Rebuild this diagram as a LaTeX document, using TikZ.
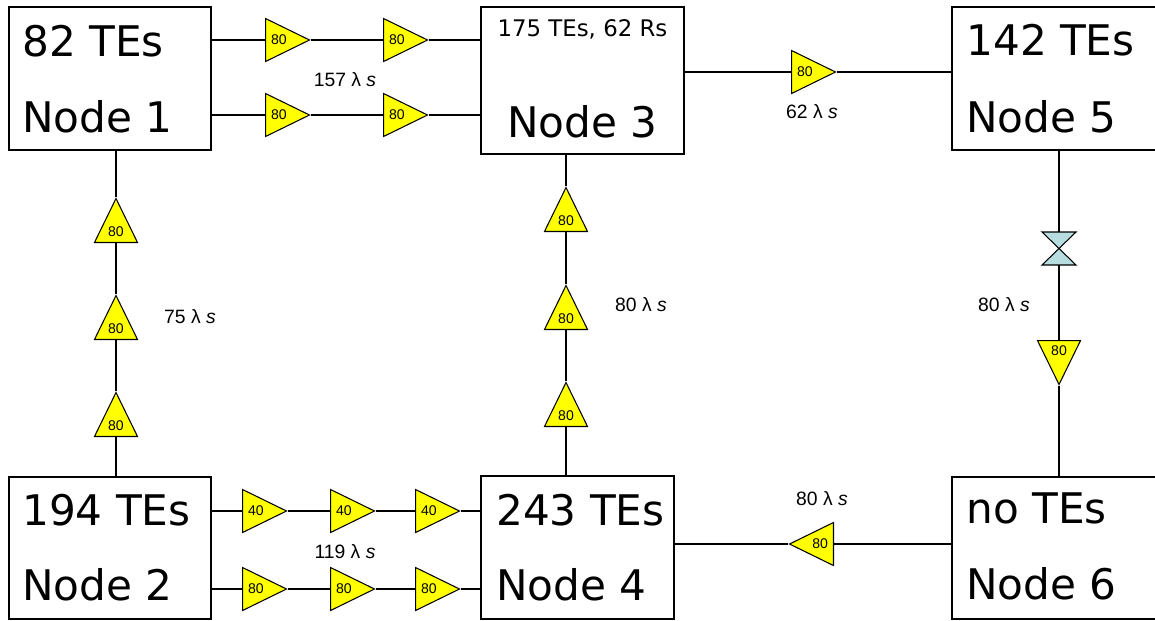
\documentclass[tikz,border=0pt]{standalone}
\usepackage{fontspec}
\setmainfont{Liberation Sans}
\newfontfamily\boxfont{DejaVu Sans}
\usetikzlibrary{shapes.geometric}
\definecolor{ampyellow}{RGB}{255,255,0}
\definecolor{isoblue}{RGB}{183,221,224}
\tikzset{
  box/.style={draw, line width=0.8pt, minimum width=4.04cm, minimum height=2.86cm},
  big/.style={inner sep=0pt, anchor=base west, font=\boxfont\fontsize{24}{28}\selectfont},
  amp/.style={draw, fill=ampyellow, line width=0.6pt, isosceles triangle, isosceles triangle apex angle=54, isosceles triangle stretches, minimum width=0.86cm, minimum height=0.88cm, inner sep=0pt, anchor=lower side, font=\fontsize{8}{9}\selectfont},
  lbl/.style={font=\fontsize{11}{13}\selectfont},
  link/.style={line width=0.7pt}
}
\begin{document}
\begin{tikzpicture}[x=0.02cm, y=-0.02cm]
  \clip (0,0) rectangle (1155,620);
  \fill[white] (0,0) rectangle (1155,620);

  % nodes
  \node[box] (n1) at (110,78.5) {};
  \node[box, minimum width=4.06cm, minimum height=2.94cm] (n3) at (582.5,80.5) {};
  \node[box, minimum width=4.2cm] (n5) at (1057,78.5) {};
  \node[box, minimum height=2.84cm] (n2) at (110,548) {};
  \node[box, minimum width=3.86cm] (n4) at (577.5,547.5) {};
  \node[box, minimum width=4.2cm, minimum height=2.84cm] (n6) at (1057,548) {};

  \node[big] (t1a) at (22,56) {82 TEs};
  \node[big] (t1b) at (22,132) {Node 1};
  \node[big, anchor=base, font=\boxfont\fontsize{13}{15}\selectfont] (t3a) at (582.5,36) {175 TEs, 62 Rs};
  \node[big, anchor=base] (t3b) at (582.5,137) {Node 3};
  \node[big] (t5a) at (966,55) {142 TEs};
  \node[big] (t5b) at (966,132) {Node 5};
  \node[big] (t2a) at (22,525) {194 TEs};
  \node[big] (t2b) at (22,600) {Node 2};
  \node[big] (t4a) at (496,525) {243 TEs};
  \node[big] (t4b) at (496,600) {Node 4};
  \node[big] (t6a) at (966,523) {no TEs};
  \node[big] (t6b) at (966,599) {Node 6};

  % node 1 -- node 3
  \node[amp] (a1) at (265,40) {80};
  \node[amp] (a2) at (383,40) {80};
  \node[amp] (a3) at (265,115) {80};
  \node[amp] (a4) at (383,115) {80};
  \draw[link] (n1.east |- a1) -- (a1.lower side);
  \draw[link] (a1.apex) -- (a2.lower side);
  \draw[link] (a2.apex) -- (n3.west |- a2);
  \draw[link] (n1.east |- a3) -- (a3.lower side);
  \draw[link] (a3.apex) -- (a4.lower side);
  \draw[link] (a4.apex) -- (n3.west |- a4);
  \node[lbl] (l13) at (345,80) {157 λ \textit{s}};

  % node 3 -- node 5
  \node[amp] (a5) at (791,72) {80};
  \draw[link] (n3.east |- a5) -- (a5.lower side);
  \draw[link] (a5.apex) -- (n5.west |- a5);
  \node[lbl] (l35) at (812,112) {62 λ \textit{s}};

  % node 2 -- node 1
  \node[amp, shape border rotate=90] (b1) at (116,437) {80};
  \node[amp, shape border rotate=90] (b2) at (116,340) {80};
  \node[amp, shape border rotate=90] (b3) at (116,243) {80};
  \draw[link] (n2.north -| b1) -- (b1.lower side);
  \draw[link] (b1.apex) -- (b2.lower side);
  \draw[link] (b2.apex) -- (b3.lower side);
  \draw[link] (b3.apex) -- (n1.south -| b3);
  \node[lbl] (l12) at (190,317) {75 λ \textit{s}};

  % node 4 -- node 3
  \node[amp, shape border rotate=90] (b4) at (566,427) {80};
  \node[amp, shape border rotate=90] (b5) at (566,330) {80};
  \node[amp, shape border rotate=90] (b6) at (566,232) {80};
  \draw[link] (n4.north -| b4) -- (b4.lower side);
  \draw[link] (b4.apex) -- (b5.lower side);
  \draw[link] (b5.apex) -- (b6.lower side);
  \draw[link] (b6.apex) -- (n3.south -| b6);
  \node[lbl] (l34) at (641,305) {80 λ \textit{s}};

  % node 5 -- node 6
  \node[amp, shape border rotate=-90] (c1) at (1059,340) {80};
  \coordinate (iso) at (1059,248.5);
  \draw[link] (n5.south -| c1) -- (c1.lower side);
  \draw[link] (c1.apex) -- (n6.north -| c1);
  \draw[line width=0.6pt, fill=isoblue] ([shift={(-17,-16.5)}]iso) -- ([shift={(17,-16.5)}]iso) -- ([shift={(-17,16.5)}]iso) -- ([shift={(17,16.5)}]iso) -- cycle;
  \node[lbl] (l56) at (1004,305) {80 λ \textit{s}};

  % node 6 -- node 4
  \node[amp, shape border rotate=180] (c2) at (834,544) {80};
  \draw[link] (n6.west |- c2) -- (c2.lower side);
  \draw[link] (c2.apex) -- (n4.east |- c2);
  \node[lbl] (l64) at (822,499) {80 λ \textit{s}};

  % node 2 -- node 4
  \foreach \x/\n in {242/1, 330/2, 415/3} {
    \node[amp] (d\n) at (\x,511) {40};
    \node[amp] (e\n) at (\x,589) {80};
  }
  \draw[link] (n2.east |- d1) -- (d1.lower side);
  \draw[link] (d1.apex) -- (d2.lower side);
  \draw[link] (d2.apex) -- (d3.lower side);
  \draw[link] (d3.apex) -- (n4.west |- d3);
  \draw[link] (n2.east |- e1) -- (e1.lower side);
  \draw[link] (e1.apex) -- (e2.lower side);
  \draw[link] (e2.apex) -- (e3.lower side);
  \draw[link] (e3.apex) -- (n4.west |- e3);
  \node[lbl] (l24) at (345,552) {119 λ \textit{s}};
\end{tikzpicture}
\end{document}
